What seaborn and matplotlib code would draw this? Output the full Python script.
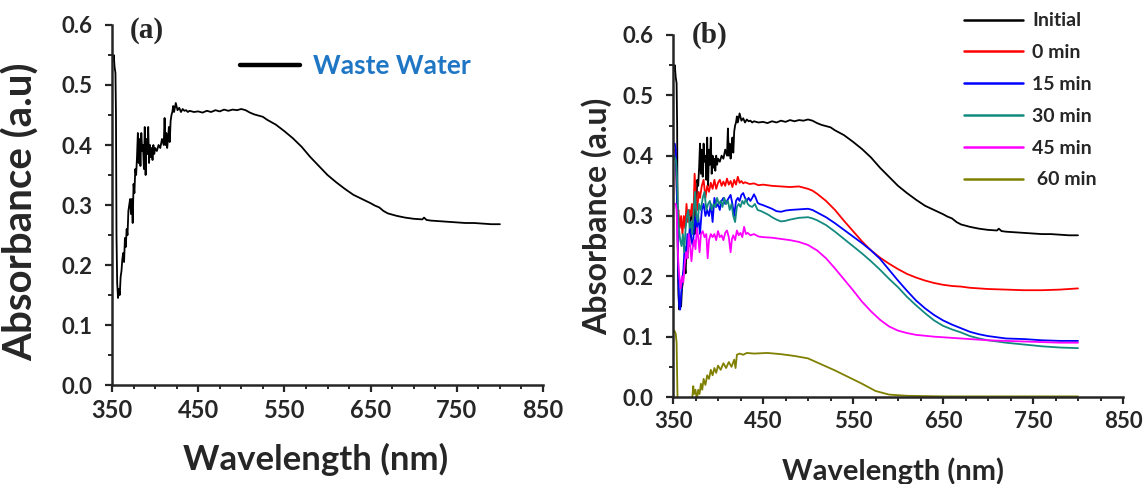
import numpy as np
import pandas as pd
import matplotlib
matplotlib.use("Agg")
import matplotlib.pyplot as plt
from matplotlib.ticker import MultipleLocator, FormatStrFormatter
import seaborn as sns

# ---------------- data ----------------

# initial / waste water spectrum (same curve in (a) and (b))
wl_initial = [351, 352, 353, 354, 354.6, 355.2, 356, 357, 358, 359, 360, 361, 362, 363, 364, 365,
              366, 367, 368, 369, 370, 371, 372, 373, 374, 375, 376, 377, 378, 379, 380, 381, 382,
              383, 384, 385, 386, 387, 388, 389, 390, 391, 392, 393, 394, 395, 396, 397, 398, 399,
              400, 402, 404, 406, 408, 410, 411, 412, 413, 414, 415, 416, 417, 418, 419, 420, 421,
              422, 424, 426, 428, 430, 432, 434, 436, 438, 440, 445, 450, 455, 460, 465, 470, 475,
              480, 485, 490, 495, 500, 505, 510, 515, 520, 525, 530, 540, 550, 560, 570, 580, 590,
              600, 610, 620, 630, 640, 650, 655, 660, 665, 670, 680, 690, 700, 710, 712, 715, 720,
              730, 740, 750, 760, 770, 780, 790, 800]
abs_initial = [0.54, 0.55, 0.53, 0.52, 0.45, 0.25, 0.17, 0.145, 0.16, 0.15, 0.18, 0.19, 0.21, 0.22,
               0.205, 0.245, 0.23, 0.26, 0.25, 0.29, 0.30, 0.31, 0.285, 0.31, 0.27, 0.335, 0.32, 0.36,
               0.35, 0.38, 0.42, 0.37, 0.41, 0.365, 0.42, 0.39, 0.40, 0.36, 0.43, 0.35, 0.41, 0.385,
               0.43, 0.37, 0.40, 0.38, 0.395, 0.375, 0.40, 0.385, 0.395, 0.39, 0.40, 0.395, 0.41,
               0.40, 0.445, 0.40, 0.42, 0.395, 0.41, 0.43, 0.405, 0.44, 0.45, 0.455, 0.465, 0.455,
               0.47, 0.458, 0.462, 0.455, 0.46, 0.457, 0.458, 0.455, 0.457, 0.455, 0.456, 0.454,
               0.457, 0.455, 0.458, 0.456, 0.459, 0.457, 0.459, 0.458, 0.46, 0.458, 0.454, 0.451,
               0.449, 0.447, 0.442, 0.434, 0.423, 0.411, 0.397, 0.38, 0.365, 0.35, 0.338, 0.327,
               0.317, 0.31, 0.303, 0.299, 0.296, 0.29, 0.286, 0.282, 0.279, 0.277, 0.276, 0.279,
               0.275, 0.274, 0.273, 0.272, 0.271, 0.27, 0.27, 0.269, 0.268, 0.268]

wl_0min = [352, 353, 354, 355, 356, 357.5, 359, 360.5, 362, 363.5, 365, 366.5, 368, 369.5, 371,
           372.5, 374, 375.5, 377, 378.5, 380, 382, 384, 386, 388, 390, 392, 394, 396, 398, 400,
           402, 404, 406, 408, 410, 412, 414, 416, 418, 420, 422, 424, 426, 428, 430, 435, 440,
           445, 450, 460, 470, 480, 490, 500, 505, 510, 515, 520, 530, 540, 550, 560, 570, 580,
           590, 600, 610, 620, 630, 640, 650, 660, 670, 680, 690, 700, 720, 740, 760, 780, 800]
abs_0min = [0.41, 0.40, 0.35, 0.30, 0.31, 0.28, 0.30, 0.27, 0.30, 0.28, 0.32, 0.29, 0.31, 0.30,
            0.32, 0.29, 0.37, 0.33, 0.31, 0.34, 0.33, 0.35, 0.36, 0.33, 0.35, 0.34, 0.355, 0.345,
            0.36, 0.345, 0.355, 0.36, 0.35, 0.357, 0.35, 0.362, 0.352, 0.358, 0.348, 0.36, 0.352,
            0.365, 0.355, 0.358, 0.354, 0.356, 0.353, 0.354, 0.351, 0.352, 0.35, 0.349, 0.348,
            0.349, 0.345, 0.342, 0.337, 0.331, 0.325, 0.31, 0.292, 0.275, 0.258, 0.243, 0.231,
            0.221, 0.212, 0.204, 0.198, 0.193, 0.189, 0.186, 0.184, 0.183, 0.181, 0.18, 0.179,
            0.178, 0.177, 0.177, 0.178, 0.18]

wl_15min = [352, 353, 354, 355, 356, 357, 358, 359, 360, 361.5, 363, 364.5, 366, 367.5, 369, 370.5,
            372, 373.5, 375, 376.5, 378, 380, 382, 384, 386, 388, 390, 392, 394, 396, 398, 400,
            402, 404, 406, 408, 410, 412, 414, 416, 418, 420, 422, 424, 426, 428, 430, 432, 434,
            436, 438, 440, 442, 444, 446, 450, 455, 460, 465, 470, 475, 480, 490, 500, 505, 510,
            520, 530, 540, 550, 560, 570, 580, 590, 600, 610, 620, 630, 640, 650, 660, 670, 680,
            690, 700, 710, 720, 740, 760, 780, 800]
abs_15min = [0.42, 0.41, 0.36, 0.28, 0.2, 0.15, 0.145, 0.17, 0.19, 0.21, 0.25, 0.23, 0.27, 0.25,
             0.29, 0.26, 0.25, 0.28, 0.30, 0.28, 0.30, 0.27, 0.31, 0.32, 0.30, 0.31, 0.30, 0.32,
             0.29, 0.33, 0.315, 0.32, 0.31, 0.325, 0.33, 0.32, 0.325, 0.33, 0.335, 0.32, 0.30,
             0.325, 0.33, 0.325, 0.335, 0.338, 0.33, 0.325, 0.33, 0.325, 0.33, 0.336, 0.33, 0.322,
             0.32, 0.318, 0.315, 0.312, 0.308, 0.307, 0.309, 0.31, 0.311, 0.312, 0.31, 0.306,
             0.298, 0.288, 0.277, 0.266, 0.255, 0.243, 0.229, 0.211, 0.193, 0.176, 0.16, 0.147,
             0.136, 0.127, 0.12, 0.114, 0.108, 0.104, 0.101, 0.099, 0.097, 0.096, 0.094, 0.093,
             0.093]

wl_30min = [351.5, 352.5, 353.5, 354.5, 355.5, 356.5, 358, 359.5, 361, 362.5, 364, 365.5, 367,
            368.5, 370, 371.5, 373, 374.5, 376, 377.5, 379, 381, 383, 385, 387, 389, 391, 393,
            395, 397, 399, 401, 403, 405, 407, 409, 411, 413, 415, 417, 419, 421, 423, 425, 427,
            429, 431, 433, 435, 438, 441, 444, 448, 452, 456, 460, 465, 470, 475, 480, 490, 500,
            505, 510, 520, 530, 540, 550, 560, 570, 580, 590, 600, 610, 620, 630, 640, 650, 660,
            670, 680, 690, 700, 710, 720, 740, 760, 780, 800]
abs_30min = [0.40, 0.395, 0.39, 0.36, 0.31, 0.28, 0.26, 0.25, 0.27, 0.24, 0.28, 0.30, 0.31, 0.28,
             0.29, 0.27, 0.31, 0.34, 0.30, 0.29, 0.32, 0.31, 0.33, 0.34, 0.31, 0.32, 0.325, 0.31,
             0.32, 0.315, 0.33, 0.32, 0.325, 0.315, 0.33, 0.32, 0.325, 0.31, 0.32, 0.30, 0.29,
             0.315, 0.32, 0.315, 0.325, 0.32, 0.328, 0.32, 0.317, 0.315, 0.32, 0.31, 0.308, 0.305,
             0.302, 0.298, 0.294, 0.291, 0.292, 0.294, 0.297, 0.298, 0.296, 0.293, 0.285, 0.274,
             0.262, 0.25, 0.238, 0.225, 0.211, 0.196, 0.182, 0.166, 0.152, 0.139, 0.127, 0.118,
             0.112, 0.107, 0.101, 0.097, 0.094, 0.092, 0.09, 0.087, 0.084, 0.082, 0.081]

wl_45min = [352, 353, 354, 355, 356, 357, 358.5, 360, 361.5, 363, 364.5, 366, 367.5, 369, 370.5,
            372, 373.5, 375, 376.5, 378, 379.5, 381, 383, 385, 387, 388.5, 390, 392, 394, 396,
            398, 400, 402, 404, 406, 408, 410, 412, 414, 415.5, 417, 419, 421, 423, 425, 427, 429,
            431, 433, 436, 440, 445, 450, 460, 470, 480, 490, 500, 510, 520, 530, 540, 550, 560,
            570, 580, 590, 600, 610, 620, 640, 660, 680, 700, 720, 740, 760, 780, 800]
abs_45min = [0.32, 0.32, 0.31, 0.26, 0.22, 0.2, 0.18, 0.2, 0.19, 0.22, 0.24, 0.23, 0.27, 0.25,
             0.225, 0.25, 0.26, 0.245, 0.28, 0.265, 0.24, 0.27, 0.275, 0.265, 0.27, 0.23, 0.26,
             0.27, 0.265, 0.27, 0.26, 0.275, 0.265, 0.268, 0.26, 0.272, 0.276, 0.265, 0.24, 0.262,
             0.268, 0.26, 0.276, 0.268, 0.272, 0.265, 0.282, 0.27, 0.272, 0.268, 0.27, 0.266,
             0.265, 0.264, 0.262, 0.26, 0.257, 0.252, 0.243, 0.23, 0.213, 0.195, 0.177, 0.158,
             0.142, 0.128, 0.117, 0.11, 0.106, 0.103, 0.1, 0.098, 0.096, 0.094, 0.093, 0.092,
             0.091, 0.09, 0.09]

wl_60min = [351.5, 353, 354, 355, 356, 365, 370, 371.5, 372.5, 373.5, 375, 376.5, 378, 379.5, 381,
            382.5, 384, 386, 388, 390, 392, 394, 396, 398, 400, 403, 406, 409, 412, 415, 418,
            419.5, 421, 424, 428, 432, 440, 455, 470, 485, 500, 515, 530, 545, 560, 575, 590, 610,
            650, 700, 750, 800]
abs_60min = [0.11, 0.105, 0.09, 0.0, -0.05, -0.05, -0.02, 0.0, 0.018, 0.005, 0.012, -0.005, 0.012,
             0.005, 0.022, 0.012, 0.03, 0.02, 0.036, 0.03, 0.045, 0.036, 0.048, 0.04, 0.052, 0.045,
             0.056, 0.048, 0.058, 0.05, 0.062, 0.048, 0.07, 0.072, 0.07, 0.073, 0.072, 0.073, 0.071,
             0.068, 0.064, 0.054, 0.044, 0.033, 0.022, 0.01, 0.004, 0.002, 0.001, 0.001, 0.001,
             0.001]

series_names = ["Initial", "0 min", "15 min", "30 min", "45 min", " 60 min"]
series_colors = ["#000000", "#ff0000", "#0000ff", "#138a80", "#ff00ff", "#808000"]
x_ticks = [350, 450, 550, 650, 750, 850]

# long table for panel (b)
frames = []
for name, wl, ab in zip(series_names,
                        [wl_initial, wl_0min, wl_15min, wl_30min, wl_45min, wl_60min],
                        [abs_initial, abs_0min, abs_15min, abs_30min, abs_45min, abs_60min]):
    frames.append(pd.DataFrame({"wavelength": wl, "absorbance": ab, "sample": name}))
df_b = pd.concat(frames, ignore_index=True)

# ---------------- figure ----------------
sns.set_style("ticks")
plt.rcParams["font.family"] = ["Lato", "DejaVu Sans"]
plt.rcParams["font.weight"] = "bold"

W, H = 1145, 484
fig = plt.figure(figsize=(W / 100, H / 100), dpi=100)
ax_a = fig.add_axes([112 / W, (H - 385) / H, 431 / W, 360 / H])
ax_b = fig.add_axes([673 / W, (H - 397) / H, 450 / W, 362 / H])


def style_axis(ax, xtick_size, ytick_size):
    ax.set_xlim(350, 850)
    ax.set_ylim(0, 0.6)
    ax.set_xticks(x_ticks)
    ax.xaxis.set_minor_locator(MultipleLocator(25))
    ax.yaxis.set_major_locator(MultipleLocator(0.1))
    ax.yaxis.set_minor_locator(MultipleLocator(0.05))
    ax.yaxis.set_major_formatter(FormatStrFormatter("%.1f"))
    sns.despine(ax=ax)
    for side in ["left", "bottom"]:
        ax.spines[side].set_linewidth(1.8)
    ax.tick_params(which="major", direction="out", length=5, width=1.6)
    ax.tick_params(axis="x", which="major", labelsize=xtick_size, pad=5)
    ax.tick_params(axis="y", which="major", labelsize=ytick_size, pad=9)
    ax.tick_params(which="minor", direction="out", length=3, width=1.4)
    for lab in ax.get_xticklabels() + ax.get_yticklabels():
        lab.set_fontweight("bold")


# panel (a)
sns.lineplot(x=wl_initial, y=abs_initial, ax=ax_a, color="black", linewidth=1.3,
             label="Waste Water", sort=False, estimator=None)
style_axis(ax_a, 17, 16)
ax_a.set_xlabel("Wavelength (nm)", fontsize=25, fontweight="bold")
ax_a.set_ylabel("Absorbance (a.u)", fontsize=29, fontweight="bold")
ax_a.xaxis.set_label_coords(0.473, -0.161)
ax_a.yaxis.set_label_coords(-0.167, 0.48)
ax_a.text(0.042, 0.986, "(a)", transform=ax_a.transAxes, fontsize=21, fontweight="bold",
          family="Liberation Serif", va="center", ha="left")
leg_a = ax_a.legend(loc="upper left", bbox_to_anchor=(240 / W, 1 - 54 / H),
                    bbox_transform=fig.transFigure, frameon=False, fontsize=19,
                    handlelength=2.27, handletextpad=0.5, borderpad=0, borderaxespad=0,
                    labelcolor="#1f76c4")
for h in leg_a.legend_handles:
    h.set_linewidth(3.2)

# panel (b)
sns.lineplot(data=df_b, x="wavelength", y="absorbance", hue="sample",
             palette=dict(zip(series_names, series_colors)), hue_order=series_names,
             ax=ax_b, linewidth=1.3, sort=False, estimator=None)
style_axis(ax_b, 16, 16)
ax_b.set_xlabel("Wavelength (nm)", fontsize=21, fontweight="bold")
ax_b.set_ylabel("Absorbance (a.u)", fontsize=23, fontweight="bold")
ax_b.xaxis.set_label_coords(0.489, -0.166)
ax_b.yaxis.set_label_coords(-0.136, 0.5)
ax_b.text(0.042, 1.0, "(b)", transform=ax_b.transAxes, fontsize=21, fontweight="bold",
          family="Liberation Serif", va="center", ha="left")
leg_b = ax_b.legend(loc="upper left", bbox_to_anchor=(964 / W, 1 - 12.5 / H),
                    bbox_transform=fig.transFigure, frameon=False, fontsize=14,
                    handlelength=3.05, handletextpad=0.46, borderpad=0, borderaxespad=0,
                    labelspacing=0.76, title=None)
for h in leg_b.legend_handles:
    h.set_linewidth(1.8)

fig.savefig("out.png", dpi=100)
